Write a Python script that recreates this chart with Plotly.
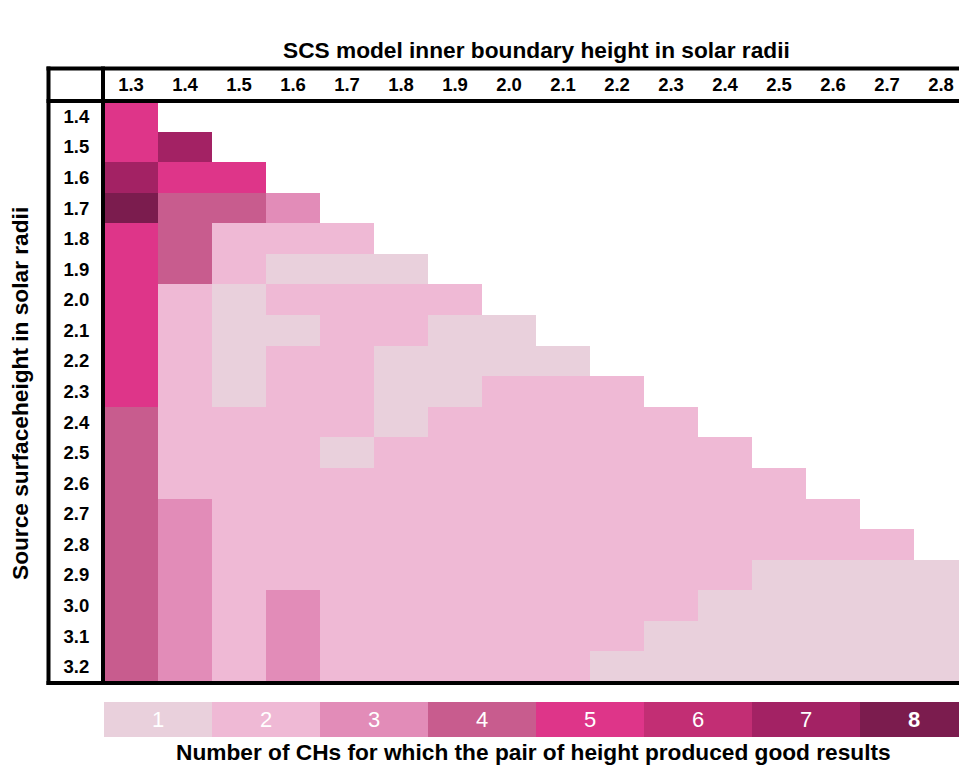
import plotly.graph_objects as go

# Inner boundary heights (columns) and source surface heights (rows), in solar radii
inner_heights = ["1.3", "1.4", "1.5", "1.6", "1.7", "1.8", "1.9", "2.0",
                 "2.1", "2.2", "2.3", "2.4", "2.5", "2.6", "2.7", "2.8"]
source_heights = ["1.4", "1.5", "1.6", "1.7", "1.8", "1.9", "2.0", "2.1", "2.2", "2.3",
                  "2.4", "2.5", "2.6", "2.7", "2.8", "2.9", "3.0", "3.1", "3.2"]

# Number of CHs with good results, one list per source surface height
# (only inner boundaries below the source surface are defined)
row_14 = [5]
row_15 = [5, 7]
row_16 = [7, 5, 5]
row_17 = [8, 4, 4, 3]
row_18 = [5, 4, 2, 2, 2]
row_19 = [5, 4, 2, 1, 1, 1]
row_20 = [5, 2, 1, 2, 2, 2, 2]
row_21 = [5, 2, 1, 1, 2, 2, 1, 1]
row_22 = [5, 2, 1, 2, 2, 1, 1, 1, 1]
row_23 = [5, 2, 1, 2, 2, 1, 1, 2, 2, 2]
row_24 = [4, 2, 2, 2, 2, 1, 2, 2, 2, 2, 2]
row_25 = [4, 2, 2, 2, 1, 2, 2, 2, 2, 2, 2, 2]
row_26 = [4, 2, 2, 2, 2, 2, 2, 2, 2, 2, 2, 2, 2]
row_27 = [4, 3, 2, 2, 2, 2, 2, 2, 2, 2, 2, 2, 2, 2]
row_28 = [4, 3, 2, 2, 2, 2, 2, 2, 2, 2, 2, 2, 2, 2, 2]
row_29 = [4, 3, 2, 2, 2, 2, 2, 2, 2, 2, 2, 2, 1, 1, 1, 1]
row_30 = [4, 3, 2, 3, 2, 2, 2, 2, 2, 2, 2, 1, 1, 1, 1, 1]
row_31 = [4, 3, 2, 3, 2, 2, 2, 2, 2, 2, 1, 1, 1, 1, 1, 1]
row_32 = [4, 3, 2, 3, 2, 2, 2, 2, 2, 1, 1, 1, 1, 1, 1, 1]

rows = [row_14, row_15, row_16, row_17, row_18, row_19, row_20, row_21, row_22, row_23,
        row_24, row_25, row_26, row_27, row_28, row_29, row_30, row_31, row_32]

# Colour key levels
levels = [1, 2, 3, 4, 5, 6, 7, 8]
level_colors = ["#e9d0dc", "#efb9d5", "#e28cb8", "#c85c8e",
                "#de3589", "#c22e74", "#a32264", "#7b1c4e"]

ncol = len(inner_heights)
z = [r + [None] * (ncol - len(r)) for r in rows]

# discrete colourscale, one band per level
nlev = len(levels)
colorscale = []
for i, c in enumerate(level_colors):
    colorscale.append([i / nlev, c])
    colorscale.append([(i + 1) / nlev, c])

W, H = 959, 769
ML, MR, MT, MB = 104, 0, 101, 32
PW, PH = W - ML - MR, H - MT - MB
COLW = 54.0


def px(xpix):
    return (xpix - ML) / PW


def py(ypix):
    return (H - MB - ypix) / PH


fig = go.Figure()

fig.add_trace(go.Heatmap(
    z=z, x=list(range(ncol)), y=list(range(len(source_heights))),
    colorscale=colorscale, zmin=0.5, zmax=nlev + 0.5, showscale=False,
    xaxis="x", yaxis="y", hoverongaps=False,
))

# colour key bar, each level spanning two columns
key_x = [2 * i + 0.5 for i in range(nlev)]
fig.add_trace(go.Heatmap(
    z=[levels], x=key_x, y=[0],
    colorscale=colorscale, zmin=0.5, zmax=nlev + 0.5, showscale=False,
    xaxis="x", yaxis="y2", hoverinfo="skip",
))

FONT = "Liberation Sans, Arial, sans-serif"
tick_font = dict(family=FONT, size=18.5, color="black")

fig.update_layout(
    width=W, height=H,
    margin=dict(l=ML, r=MR, t=MT, b=MB),
    paper_bgcolor="white", plot_bgcolor="white",
    xaxis=dict(
        side="top", range=[-0.5, -0.5 + PW / COLW],
        tickvals=list(range(ncol)), ticktext=[f"<b>{t}</b>" for t in inner_heights],
        ticks="outside", ticklen=2, tickcolor="rgba(0,0,0,0)",
        tickfont=tick_font, showgrid=False, zeroline=False, showline=False,
        fixedrange=True,
    ),
    yaxis=dict(
        domain=[py(682), 1.0], range=[len(source_heights) - 0.5, -0.5],
        tickvals=list(range(len(source_heights))),
        ticktext=[f"<b>{t}</b>" for t in source_heights],
        ticks="outside", ticklen=10, tickcolor="rgba(0,0,0,0)",
        tickfont=tick_font, showgrid=False, zeroline=False, showline=False,
    ),
    yaxis2=dict(
        domain=[py(737), py(702)], range=[-0.5, 0.5],
        showticklabels=False, ticks="", showgrid=False, zeroline=False,
    ),
)

# table frame
frame = dict(color="black", width=4)
for y0 in (68.5, 101, 683):
    fig.add_shape(type="line", xref="paper", yref="paper",
                  x0=px(46.5), x1=px(W + 5), y0=py(y0), y1=py(y0), line=frame)
for x0 in (48.5, 103):
    fig.add_shape(type="line", xref="paper", yref="paper",
                  x0=px(x0), x1=px(x0), y0=py(66.5), y1=py(685), line=frame)

# key labels
for lv, xc in zip(levels, key_x):
    txt = f"<b>{lv}</b>" if lv == levels[-1] else str(lv)
    fig.add_annotation(x=xc, y=0, xref="x", yref="y2", text=txt, showarrow=False,
                       xanchor="center", yanchor="middle",
                       font=dict(family=FONT, size=22, color="white"))

title_font = dict(family=FONT, size=22.7, color="black")
fig.add_annotation(x=(ncol - 1) / 2, y=py(50), xref="x", yref="paper",
                   xanchor="center", yanchor="middle",
                   text="<b>SCS model inner boundary height in solar radii</b>",
                   showarrow=False, font=title_font)
fig.add_annotation(x=px(20), y=py(394), xref="paper", yref="paper", textangle=-90,
                   xanchor="center", yanchor="middle",
                   text="<b>Source surfaceheight in solar radii</b>",
                   showarrow=False, font=title_font)
fig.add_annotation(x=(ncol - 1) / 2 - 0.05, y=py(752), xref="x", yref="paper",
                   xanchor="center", yanchor="middle",
                   text="<b>Number of CHs for which the pair of height produced good results</b>",
                   showarrow=False, font=title_font)

fig.write_html("out.html")
